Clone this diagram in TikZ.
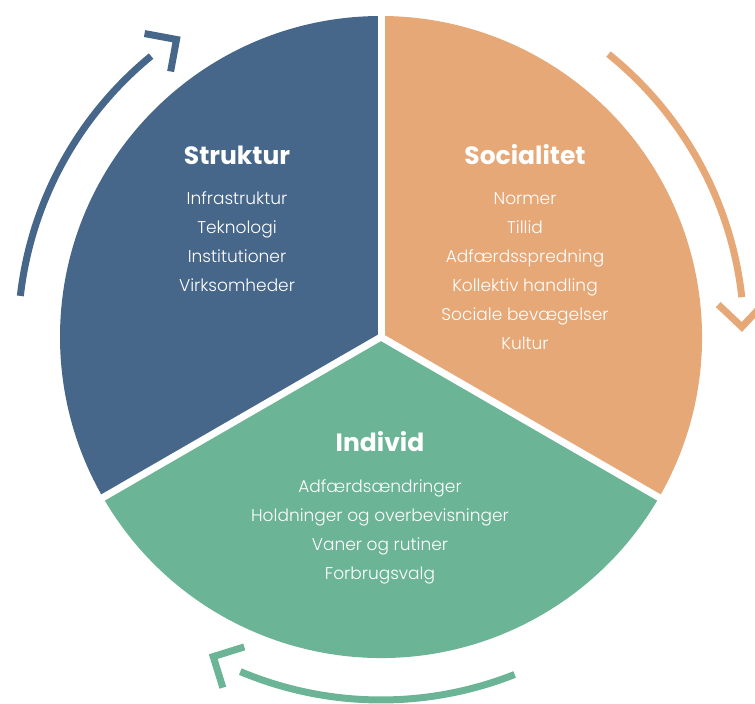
\documentclass[tikz,border=0pt]{standalone}
\usepackage{fontspec}
\setmainfont{Poppins}
\newfontfamily\itemfont{Poppins Light}
\usetikzlibrary{positioning}
\definecolor{strukturblue}{HTML}{46678A}
\definecolor{socialorange}{HTML}{E6A877}
\definecolor{individgreen}{HTML}{6BB496}
\tikzset{title/.style={text=white, font=\fontsize{25}{30}\selectfont\bfseries},
items/.style={text=white, align=center, font=\itemfont\fontsize{17}{29}\selectfont},
gap/.style={white, line width=7},
cycle arc/.style={line width=7},
chevron/.style={line width=7, miter limit=4}
}

\begin{document}
\begin{tikzpicture}[x=1pt, y=1pt]
       \useasboundingbox (0,0) rectangle (755,704);
       \coordinate (c) at (381,367);

       % the three parts
       \fill[strukturblue] (c) -- ++(90:321) arc[start angle=90, end angle=210, radius=321] -- cycle;
       \fill[socialorange] (c) -- ++(-30:321) arc[start angle=-30, end angle=90, radius=321] -- cycle;
       \fill[individgreen] (c) -- ++(210:321) arc[start angle=210, end angle=330, radius=321] -- cycle;
       \draw[gap] (c) -- ++(90:326);
       \draw[gap] (c) -- ++(210:326);
       \draw[gap] (c) -- ++(330:326);

       % arrows round the circle
       \draw[cycle arc, strukturblue] ([shift={(c)}]173.5:363) arc[start angle=173.5, end angle=129.3, radius=363];
       \draw[chevron, strukturblue, shift={(c)}, rotate=124.5] (384,23) -- (361,0) -- (338,23);
       \draw[cycle arc, socialorange] ([shift={(c)}]51.2:363) arc[start angle=51.2, end angle=6.3, radius=363];
       \draw[chevron, socialorange, shift={(c)}, rotate=1.6] (384,23) -- (361,0) -- (338,23);
       \draw[cycle arc, individgreen] ([shift={(c)}]291.6:363) arc[start angle=291.6, end angle=247.2, radius=363];
       \draw[chevron, individgreen, shift={(c)}, rotate=242.3] (384,23) -- (361,0) -- (338,23);

       \node[title] (struktur) at (237,549) {Struktur};
       \node[items, below=20pt of struktur] (struktur items) {Infrastruktur\\Teknologi\\Institutioner\\Virksomheder};
       \node[title] (socialitet) at (525,549) {Socialitet};
       \node[items, below=20pt of socialitet] (socialitet items) {Normer\\Tillid\\Adfærdsspredning\\Kollektiv handling\\Sociale bevægelser\\Kultur};
       \node[title] (individ) at (380,262) {Individ};
       \node[items, below=20pt of individ] (individ items) {Adfærdsændringer\\Holdninger og overbevisninger\\Vaner og rutiner\\Forbrugsvalg};
\end{tikzpicture}
\end{document}
